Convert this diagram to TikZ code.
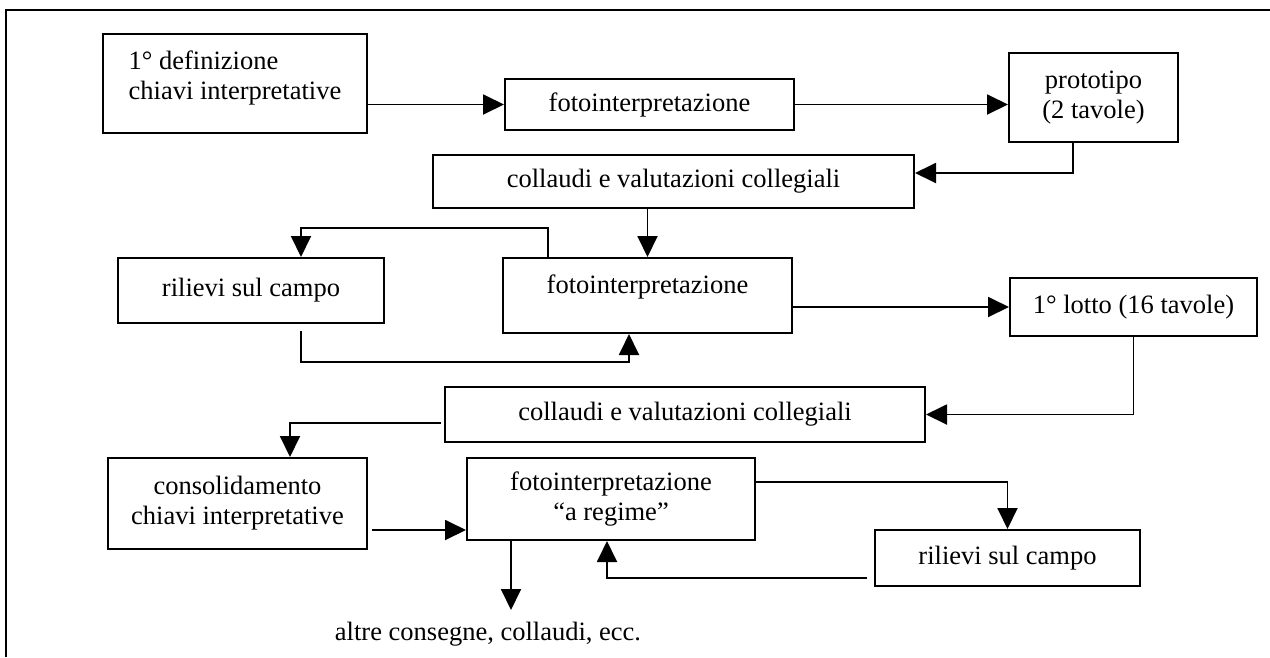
\documentclass[tikz,border=0pt]{standalone}
\usepackage{fontspec}
\setmainfont{Liberation Serif}
\usepackage{tikz}
\usetikzlibrary{arrows.meta}

\begin{document}
\begin{tikzpicture}[
    x=1pt, y=-1pt,
    font=\fontsize{26.5}{30}\selectfont,
    bx/.style  = {draw=black, line width=2pt, inner sep=0pt, align=center},
    ar/.style  = {-{Triangle[length=21pt,width=20pt]}, line width=1.9pt},
    frm/.style = {line width=2.2pt},
]
\useasboundingbox (0,0) rectangle (1270,657);

%--- frame
\draw[frm] (6,657) |- (1270,10);

%--- first round
\node[bx, align=left, minimum width=264pt, text height=65pt, text depth=34pt] (def) at (235,83.5)
      {1° definizione\\chiavi interpretative};
\node[bx, minimum width=289pt, minimum height=51pt] (foto1) at (649.5,104.5) {fotointerpretazione};
\node[bx, minimum width=169pt, minimum height=89pt] (proto) at (1093.5,97.5) {prototipo\\(2 tavole)};
\node[bx, minimum width=481pt, minimum height=53pt] (coll1) at (673.5,181.5) {collaudi e valutazioni collegiali};

%--- second round
\node[bx, minimum width=266pt, minimum height=65pt] (rilA) at (251,290.5) {rilievi sul campo};
\node[bx, minimum width=289pt, text height=35pt, text depth=40pt] (foto2) at (647.5,295.5) {fotointerpretazione};
\node[bx, minimum width=247pt, minimum height=58pt] (lotto) at (1133.5,307) {1° lotto (16 tavole)};
\node[bx, minimum width=480pt, minimum height=55pt] (coll2) at (685,414.5) {collaudi e valutazioni collegiali};

%--- steady state
\node[bx, minimum width=259pt, minimum height=91pt] (cons) at (237.5,503.5) {consolidamento\\chiavi interpretative};
\node[bx, minimum width=288pt, minimum height=82pt] (reg) at (611,499) {fotointerpretazione\\“a regime”};
\node[bx, minimum width=265pt, minimum height=56pt] (rilB) at (1007.5,558) {rilievi sul campo};
\node[inner sep=0pt, anchor=base] (altre) at (488,640) {altre consegne, collaudi, ecc.};
\coordinate (tip) at (511,610);

%--- edges
\draw[ar] (def.east |- foto1.west) -- (foto1.west);
\draw[ar] (foto1.east) -- (foto1.east -| proto.west);
\draw[ar] ([xshift=-20.5pt]proto.south) |- ([yshift=8.5pt]coll1.east);
\draw[ar] (foto2.north |- coll1.south) -- (foto2.north);
\draw[ar] ([xshift=46pt]foto2.north west) -- ++(0,-29) -| ([xshift=50pt]rilA.north);
\draw[ar] ([shift={(50,7)}]rilA.south) -- ++(0,31) -| ([xshift=127pt]foto2.south west);
\draw[ar] (foto2.east |- lotto.west) -- (lotto.west);
\draw[ar] (lotto.south) |- (coll2.east);
\draw[ar] ([shift={(-3,8.5)}]coll2.west) -| ([xshift=52.5pt]cons.north);
\draw[ar] ([shift={(4,26.5)}]cons.east) -- ([yshift=-31pt]reg.west);
\draw[ar] (reg.south west -| tip) -- (tip);
\draw[ar] ([yshift=17pt]reg.east) -| (rilB.north);
\draw[ar] ([shift={(-7,20)}]rilB.west) -| ([xshift=-4pt]reg.south);

\end{tikzpicture}
\end{document}
